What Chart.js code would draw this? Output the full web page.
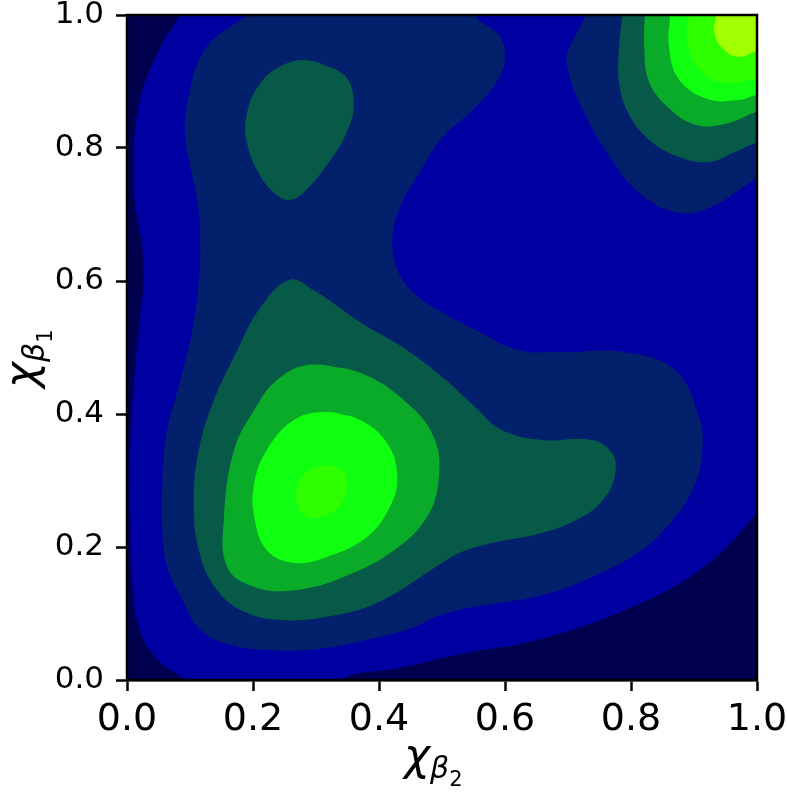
<!DOCTYPE html>
<html lang="en">
<head>
    <meta charset="UTF-8">
    <title>KDE contour</title>
    <style>
        body {
            margin: 0;
            background-color: #fff;
        }
        #wrap {
            width: 787px;
            height: 793px;
        }
    </style>
</head>
<body>
    <div id="wrap"><canvas id="chart"></canvas></div>

    <script src="https://cdn.jsdelivr.net/npm/chart.js"></script>

    <script>
        // tick labels for both axes
        const ticks = [0.0, 0.2, 0.4, 0.6, 0.8, 1.0];

        // filled contour bands, lowest to highest; [x, y] outlines
        // plot background is level 1 (blue), level 0 (dark) sits at the edges
        const levelColors = ['#00004f', '#0000a2', '#02206c', '#075a48', '#0aab28', '#10ff10', '#2eff00', '#a0ff00'];

        const level1Area = [[-0.05, -0.05], [1.05, -0.05], [1.05, 1.05], [-0.05, 1.05]];

        const level0Left = [[-0.05, 1.05], [0.10, 1.04], [0.084, 1.0], [0.052, 0.95], [0.021, 0.875],
            [0.011, 0.80], [0.012, 0.725], [0.024, 0.65], [0.026, 0.598], [0.021, 0.549], [0.011, 0.448],
            [0.005, 0.349], [0.005, 0.248], [0.008, 0.147], [0.021, 0.072], [0.052, 0.027], [0.092, 0.0],
            [0.12, -0.04], [-0.05, -0.05]];

        const level0Bottom = [[0.30, -0.05], [0.338, 0.0], [0.433, 0.018], [0.524, 0.038], [0.659, 0.062],
            [0.817, 0.116], [0.924, 0.176], [1.0, 0.251], [1.05, 0.31], [1.05, -0.05]];

        const level2Main = [[0.19, 1.0], [0.21, 1.05], [0.54, 1.05], [0.552, 1.0], [0.590, 0.970],
            [0.6, 0.94], [0.590, 0.905], [0.552, 0.86], [0.5, 0.815], [0.465, 0.764], [0.433, 0.71],
            [0.421, 0.659], [0.433, 0.609], [0.465, 0.574], [0.5, 0.553], [0.56, 0.523], [0.622, 0.496],
            [0.687, 0.493], [0.79, 0.493], [0.87, 0.466], [0.908, 0.395], [0.913, 0.346], [0.902, 0.296],
            [0.87, 0.245], [0.817, 0.195], [0.738, 0.155], [0.659, 0.128], [0.552, 0.11], [0.5, 0.098],
            [0.449, 0.077], [0.37, 0.058], [0.297, 0.046], [0.222, 0.045], [0.159, 0.054], [0.116, 0.076],
            [0.088, 0.12], [0.063, 0.173], [0.056, 0.223], [0.056, 0.298], [0.063, 0.373], [0.084, 0.448],
            [0.103, 0.523], [0.114, 0.598], [0.116, 0.674], [0.111, 0.725], [0.1, 0.774], [0.092, 0.824],
            [0.097, 0.875], [0.125, 0.95], [0.19, 1.0]];

        const level2Corner = [[0.73, 1.05], [0.727, 1.0], [0.702, 0.95], [0.698, 0.925], [0.722, 0.86],
            [0.765, 0.789], [0.817, 0.729], [0.881, 0.702], [0.933, 0.714], [0.976, 0.74], [1.0, 0.755],
            [1.05, 0.78], [1.05, 1.05]];

        const level3Top = [[0.286, 0.932], [0.344, 0.91], [0.36, 0.869], [0.349, 0.824], [0.317, 0.774],
            [0.281, 0.734], [0.259, 0.722], [0.238, 0.729], [0.211, 0.759], [0.19, 0.809], [0.19, 0.85],
            [0.206, 0.89], [0.238, 0.92], [0.286, 0.932], [0.344, 0.91]];

        const level3Main = [[0.259, 0.602], [0.302, 0.583], [0.37, 0.538], [0.44, 0.499], [0.5, 0.456],
            [0.552, 0.411], [0.595, 0.376], [0.659, 0.361], [0.738, 0.361], [0.77, 0.341], [0.775, 0.311],
            [0.759, 0.275], [0.722, 0.245], [0.659, 0.221], [0.579, 0.206], [0.527, 0.191], [0.5, 0.176],
            [0.397, 0.116], [0.317, 0.095], [0.249, 0.09], [0.19, 0.101], [0.143, 0.135], [0.114, 0.195],
            [0.106, 0.271], [0.114, 0.346], [0.138, 0.421], [0.175, 0.496], [0.211, 0.559], [0.259, 0.602],
            [0.302, 0.583]];

        const level3Corner = [[0.79, 1.05], [0.786, 1.0], [0.781, 0.95], [0.781, 0.899], [0.797, 0.85],
            [0.833, 0.809], [0.881, 0.785], [0.924, 0.779], [0.965, 0.794], [1.0, 0.809], [1.05, 0.83],
            [1.05, 1.05]];

        const level4Main = [[0.29, 0.474], [0.37, 0.462], [0.444, 0.417], [0.487, 0.365], [0.495, 0.305],
            [0.476, 0.245], [0.424, 0.195], [0.344, 0.155], [0.265, 0.135], [0.202, 0.14], [0.159, 0.17],
            [0.154, 0.245], [0.17, 0.346], [0.202, 0.406], [0.238, 0.451], [0.29, 0.474], [0.37, 0.462]];

        const level4Corner = [[0.825, 1.05], [0.822, 1.0], [0.821, 0.95], [0.829, 0.899], [0.86, 0.86],
            [0.902, 0.835], [0.949, 0.836], [1.0, 0.855], [1.05, 0.87], [1.05, 1.05]];

        const level5Main = [[0.317, 0.403], [0.37, 0.391], [0.413, 0.356], [0.429, 0.305], [0.417, 0.26],
            [0.381, 0.215], [0.317, 0.185], [0.265, 0.176], [0.222, 0.195], [0.202, 0.245], [0.202, 0.296],
            [0.222, 0.346], [0.265, 0.391], [0.317, 0.403], [0.37, 0.391]];

        const level5Corner = [[0.862, 1.05], [0.862, 1.0], [0.86, 0.955], [0.875, 0.905], [0.92, 0.874],
            [0.97, 0.872], [1.0, 0.88], [1.05, 0.89], [1.05, 1.05]];

        const level6Main = [[0.317, 0.323], [0.343, 0.313], [0.349, 0.29], [0.338, 0.263], [0.314, 0.247],
            [0.287, 0.245], [0.271, 0.263], [0.271, 0.293], [0.29, 0.316], [0.317, 0.323], [0.343, 0.313]];

        const level6Corner = [[0.894, 1.05], [0.892, 1.0], [0.889, 0.959], [0.908, 0.92], [0.944, 0.898],
            [1.0, 0.905], [1.05, 0.91], [1.05, 1.05]];

        const level7Corner = [[0.937, 1.05], [0.935, 1.0], [0.932, 0.974], [0.945, 0.95], [0.97, 0.937],
            [1.0, 0.945], [1.05, 0.95], [1.05, 1.05]];

        const bands = [
            { pts: level1Area, level: 1, tension: 0 },
            { pts: level0Left, level: 0 },
            { pts: level0Bottom, level: 0 },
            { pts: level2Main, level: 2 },
            { pts: level2Corner, level: 2 },
            { pts: level3Top, level: 3 },
            { pts: level3Main, level: 3 },
            { pts: level3Corner, level: 3 },
            { pts: level4Main, level: 4 },
            { pts: level4Corner, level: 4 },
            { pts: level5Main, level: 5 },
            { pts: level5Corner, level: 5 },
            { pts: level6Main, level: 6 },
            { pts: level6Corner, level: 6 },
            { pts: level7Corner, level: 7 }
        ];

        const datasets = bands.map((b, i) => ({
            data: b.pts.map(p => ({ x: p[0], y: p[1] })),
            backgroundColor: levelColors[b.level],
            borderColor: levelColors[b.level],
            borderWidth: 0,
            pointRadius: 0,
            fill: 'shape',
            tension: b.tension === undefined ? 0.4 : b.tension,
            order: 100 - i
        }));

        // frame round the plot area + axis titles with subscripts
        const extras = {
            id: 'extras',
            afterDraw(chart) {
                const ctx = chart.ctx;
                const a = chart.chartArea;
                ctx.save();
                ctx.strokeStyle = '#000';
                ctx.lineWidth = 2.5;
                ctx.strokeRect(a.left, a.top, a.right - a.left, a.bottom - a.top);

                function label(x, y, sub) {
                    ctx.fillStyle = '#000';
                    ctx.textBaseline = 'alphabetic';
                    ctx.textAlign = 'left';
                    ctx.font = 'italic 44px "DejaVu Sans"';
                    ctx.fillText('χ', x, y);
                    let w = ctx.measureText('χ').width;
                    ctx.font = 'italic 30px "DejaVu Sans"';
                    ctx.fillText('β', x + w, y + 8);
                    w += ctx.measureText('β').width;
                    ctx.font = '21px "DejaVu Sans"';
                    ctx.fillText(sub, x + w, y + 16);
                }
                label(404, 770, '2');
                ctx.translate(36, 388);
                ctx.rotate(-Math.PI / 2);
                label(0, 0, '1');
                ctx.restore();
            }
        };

        const axisStyle = (size, pad) => ({
            type: 'linear',
            min: 0,
            max: 1,
            afterBuildTicks: s => { s.ticks = ticks.map(v => ({ value: v })); },
            ticks: {
                color: '#000',
                padding: pad,
                font: { family: 'DejaVu Sans', size: size },
                callback: v => v.toFixed(1)
            },
            grid: {
                drawOnChartArea: false,
                tickLength: 11,
                tickWidth: 2.5,
                tickColor: '#000'
            },
            border: { display: true, width: 2.5, color: '#000' }
        });

        const xAxis = axisStyle(38, 6);
        xAxis.afterFit = s => { s.height = 113; s.paddingLeft = 0; s.paddingRight = 30; };
        const yAxis = axisStyle(31, 12);
        yAxis.afterFit = s => { s.width = 127; s.paddingTop = 15; s.paddingBottom = 0; };

        new Chart(document.getElementById('chart'), {
            type: 'line',
            data: { datasets: datasets },
            options: {
                responsive: true,
                maintainAspectRatio: false,
                animation: false,
                layout: { padding: 0 },
                plugins: {
                    legend: { display: false },
                    tooltip: { enabled: false }
                },
                scales: { x: xAxis, y: yAxis }
            },
            plugins: [extras]
        });
    </script>
</body>
</html>
